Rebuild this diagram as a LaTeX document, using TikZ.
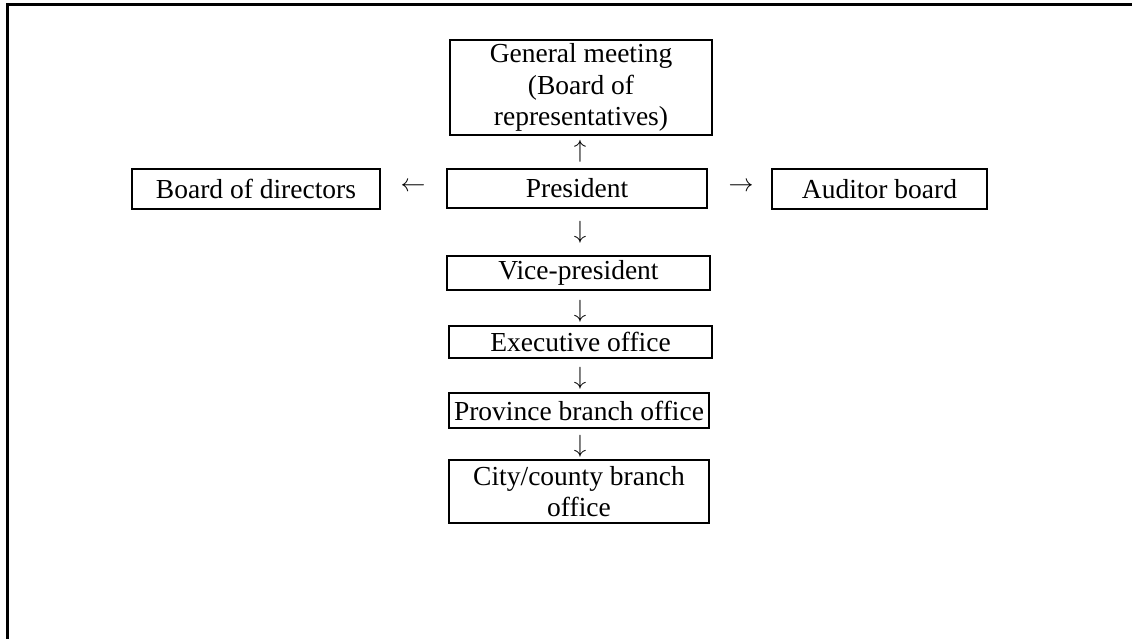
\documentclass[tikz,border=0pt]{standalone}
\usepackage{fontspec}
\setmainfont{Liberation Serif}
\begin{document}
\begin{tikzpicture}[x=1pt,y=-1pt,
  every node/.style={font=\fontsize{27.5}{31.5}\selectfont},
  unit/.style={draw,line width=2.3pt,inner sep=0pt,align=center},
  link/.style={inner sep=0pt,font=\fontsize{26}{30}\selectfont}]
\useasboundingbox (0,0) rectangle (1132,639);
% partial frame along the top and left edges
\draw[line width=2.3pt] (7.5,639) -- (7.5,4.5) -- (1132,4.5);

% top level
\node[unit,minimum width=262pt,minimum height=95pt] (gm) at (581,87.5)
  {General meeting\\(Board of\\representatives)};
\node[unit,minimum width=260pt,minimum height=39pt] (pres) at (577,188.5) {President};
\node[unit,minimum width=248pt,minimum height=40pt] (bod) at (256,189) {Board of directors};
\node[unit,minimum width=215pt,minimum height=40pt] (aud) at (879.5,189) {Auditor board};

% chain below the president
\node[unit,minimum width=263pt,minimum height=34pt] (vp) at (578.5,273) {Vice-president};
\node[unit,minimum width=263pt,minimum height=32pt] (exec) at (580.5,342) {Executive office};
\node[unit,minimum width=260pt,minimum height=35pt] (prov) at (579,410.5) {Province branch office};
\node[unit,minimum width=260pt,minimum height=63pt] (city) at (579,491.5)
  {City/county branch\\office};

% arrow glyphs between the boxes
\node[link] (a1) at (580,151) {$\uparrow$};
\node[link] (a2) at (413,187) {$\leftarrow$};
\node[link] (a3) at (741,187) {$\rightarrow$};
\node[link] (a4) at (580,232) {$\downarrow$};
\node[link] (a5) at (580,311) {$\downarrow$};
\node[link] (a6) at (580,378) {$\downarrow$};
\node[link] (a7) at (580,446) {$\downarrow$};
\end{tikzpicture}
\end{document}
